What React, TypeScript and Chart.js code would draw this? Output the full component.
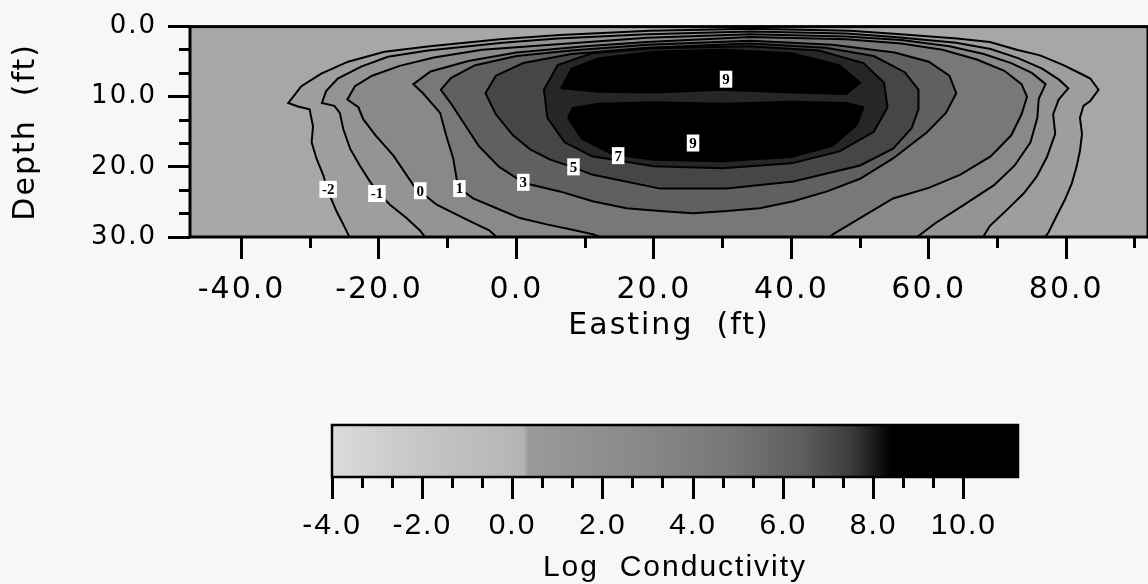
import React, { useEffect, useRef } from 'react';
import { Chart, registerables } from 'chart.js';

Chart.register(...registerables);

// ---- axis ranges / ticks ----
const EASTING_MIN = -47.5;
const EASTING_MAX = 91.9;
const DEPTH_MIN = 0;
const DEPTH_MAX = 30;
const EASTING_MAJOR_STEP = 20;
const EASTING_MINOR_STEP = 10;
const DEPTH_MAJOR_STEP = 10;
const DEPTH_MINOR_STEP = 10 / 3;

const COLORBAR_MIN = -4;
const COLORBAR_MAX = 11.2;
const COLORBAR_MAJOR_STEP = 2;
const COLORBAR_MINOR_STEP = 2 / 3;
const COLORBAR_LAST_TICK = 10;

// ---- contour levels (easting ft, depth ft) ----
const contourLevels = [-2, -1, 0, 1, 3, 5, 7, 9, 9];
const contourFills = ['#9e9e9e', '#949494', '#898989', '#787878', '#606060', '#464646', '#262626', '#000000', '#000000'];
const plotBackground = '#a7a7a7';

const contourM2: [number, number][] = [
  [-24.3, 31], [-24.3, 30], [-25.2, 28.2], [-26.2, 26.3], [-27.4, 23.5], [-28.1, 21.2], [-29.1, 18.8], [-29.8, 16.5],
  [-29.6, 14.2], [-30.1, 11.8], [-31.8, 11.4], [-33.2, 10.9], [-31.3, 8.5], [-28.4, 6.7], [-24.5, 5.0], [-19.2, 3.6],
  [-12.6, 2.8], [-2.4, 1.8], [6.3, 1.2], [19.4, 0.6], [34, 0.3], [48.5, 0.6], [54.4, 1.0], [64.1, 1.7], [68.9, 2.2],
  [72.8, 3.3], [76.2, 4.1], [79.6, 5.5], [82.5, 6.9], [83.5, 7.4], [84.7, 9.0], [83.5, 10.6], [82.5, 11.3], [82.0, 13.0],
  [82.3, 15.3], [82.0, 17.7], [81.5, 20.0], [80.8, 22.4], [79.8, 24.7], [78.6, 27.0], [77.4, 29.4], [76.9, 30], [76.9, 31],
];
const contourM1: [number, number][] = [
  [-13.3, 31], [-13.3, 30], [-14.0, 29.1], [-16.0, 27.3], [-18.4, 25.4], [-20.3, 23.5], [-21.3, 22.1], [-22.8, 19.8],
  [-24.2, 17.4], [-25.2, 14.6], [-25.7, 12.3], [-26.5, 11.3], [-28.3, 10.9], [-27.7, 9.2], [-26.0, 7.4], [-22.6, 5.7],
  [-18.7, 4.3], [-12.9, 3.4], [-2, 2.3], [6, 1.7], [19, 1.1], [34, 0.7], [48, 1.0], [55, 1.5], [64, 2.3], [69, 3.2],
  [73, 4.5], [76.5, 6.0], [79, 7.6], [80.3, 8.8], [78.9, 10.4], [78.1, 12.5], [78.4, 15.3], [77.2, 18.6], [75.7, 21.4],
  [73.8, 23.8], [71.4, 26.1], [68.9, 28.4], [67.9, 30], [67.9, 31],
];
const contour0: [number, number][] = [
  [-2.9, 31], [-2.9, 30], [-3.9, 29.1], [-5.8, 28.2], [-8.7, 26.8], [-11.6, 25.4], [-14.0, 23.5], [-15.0, 22.6],
  [-17.9, 18.4], [-20.5, 15.5], [-22.3, 13.2], [-23.0, 11.5], [-24.6, 10.4], [-23.5, 8.5], [-21, 7], [-17, 5.6],
  [-12, 4.4], [-5, 3.3], [5, 2.6], [19, 1.6], [34, 1.1], [48, 1.4], [56, 1.9], [63, 2.8], [68, 3.9], [72, 5.2],
  [75, 6.6], [77, 8.2], [76, 10.3], [75.8, 13], [74.8, 16.5], [72.5, 19.8], [69.5, 22.6], [65, 25.5], [61, 28],
  [58.3, 30], [58.3, 31],
];
const contour1: [number, number][] = [
  [12.2, 31], [12.2, 30], [11.1, 29.6], [7.8, 28.9], [4.4, 28.2], [0.5, 27.3], [-2.9, 25.9], [-6.3, 24.5], [-8.2, 23.1],
  [-8.7, 21.7], [-9.2, 18.8], [-10.2, 15.6], [-11.1, 12.3], [-13.6, 9.5], [-15, 8.2], [-12.5, 6.4], [-7, 4.9], [0, 3.7],
  [10, 2.8], [19, 2.2], [34, 1.5], [48, 1.8], [56, 2.4], [62, 3.3], [67, 4.7], [71, 6.3], [73.5, 8.2], [74.3, 10],
  [73.5, 12.5], [72, 15.5], [69, 18.5], [64.6, 21.1], [60, 23], [54.8, 24.5], [50, 27.3], [46.1, 29.6], [45.6, 30],
  [45.6, 31],
];
const contour3: [number, number][] = [
  [1.1, 22.3], [6.3, 23.5], [11.1, 24.9], [16, 25.9], [20.9, 26.3], [25.7, 26.6], [30.6, 26.3], [35.4, 25.9],
  [40.3, 24.9], [45.2, 23.5], [50, 21.7], [54.8, 18.8], [59.7, 15.1], [62.5, 12.3], [64, 9.5], [63, 7], [60, 5],
  [55, 3.7], [46, 2.6], [34, 2.0], [19, 2.6], [8, 3.4], [0, 4.2], [-6, 5.5], [-9.5, 7.3], [-11, 9], [-9.5, 11],
  [-7.5, 14], [-5.5, 17], [-2.5, 20],
];
const contour5: [number, number][] = [
  [5, 19], [8.1, 20], [11, 21.1], [20.9, 23.1], [30.6, 23.1], [40.3, 22.1], [50, 19.8], [54.8, 17.4], [57.5, 14.5],
  [58.5, 11.8], [58.5, 9], [56.5, 6.5], [52, 4.2], [45, 3.0], [34, 2.4], [19, 3.0], [8, 3.9], [1, 5.2], [-3, 7],
  [-4.5, 9.5], [-3, 12.5], [-0.5, 15.5], [2, 17.5],
];
const contour7: [number, number][] = [
  [4.5, 13], [7, 16.5], [11, 18.5], [20, 19.9], [30, 20.2], [40, 19.5], [47, 17.8], [52, 15], [54, 11.5], [53.5, 8],
  [50.5, 5.2], [44, 3.4], [34, 2.8], [20, 3.1], [11, 3.8], [6, 5.5], [4, 9],
];
const contour9Upper: [number, number][] = [
  [6.5, 8.8], [12, 9.3], [20, 9.4], [30, 9.0], [40, 9.4], [48, 9.6], [50, 8], [47, 5.5], [40, 3.8], [30, 3.3],
  [20, 3.6], [12, 4.5], [8, 6.0],
];
const contour9Lower: [number, number][] = [
  [7.5, 13], [9.5, 16], [14, 18.2], [20, 19.0], [30, 19.2], [40, 18.6], [46, 17], [49.5, 14], [50.5, 11.5], [48, 10.9],
  [40, 10.7], [30, 11.0], [20, 10.8], [12, 11.0], [8.2, 11.6],
];
const contours = [contourM2, contourM1, contour0, contour1, contour3, contour5, contour7, contour9Upper, contour9Lower];

// ---- contour labels ----
const labelTexts = ['-2', '-1', '0', '1', '3', '5', '7', '9', '9'];
const labelEasting = [-27.4, -20.3, -14.0, -8.3, 1.0, 8.3, 14.8, 25.7, 30.5];
const labelDepth = [23.2, 23.8, 23.4, 23.1, 22.2, 20.0, 18.4, 16.6, 7.5];

// ---- colour bar ----
const colorbarValues = [-4, -3, -2, -1, 0, 0.25, 0.35, 2.7, 4.8, 6.4, 7.5, 8.0, 8.4, 11.2];
const colorbarGrays = ['#dcdcdc', '#d0d0d0', '#c6c6c6', '#bebebe', '#b6b6b6', '#b2b2b2', '#9a9a9a', '#8a8a8a', '#777777', '#5e5e5e', '#3c3c3c', '#1c1c1c', '#000000', '#000000'];

const SANS = "'DejaVu Sans', sans-serif";
const ARIAL = "'Liberation Sans', Arial, sans-serif";

const spacingPlugin = {
  id: 'spacing',
  beforeDraw(chart: any) {
    chart.ctx.letterSpacing = '2px';
  },
};

const fillPlugin = {
  id: 'contourFill',
  beforeDatasetsDraw(chart: any) {
    const { ctx, chartArea: a } = chart;
    ctx.save();
    ctx.beginPath();
    ctx.rect(a.left, a.top, a.right - a.left, a.bottom - a.top);
    ctx.clip();
    ctx.fillStyle = plotBackground;
    ctx.fillRect(a.left, a.top, a.right - a.left, a.bottom - a.top);
    chart.data.datasets.forEach((ds: any, i: number) => {
      const pts = chart.getDatasetMeta(i).data;
      ctx.beginPath();
      pts.forEach((p: any, j: number) => (j ? ctx.lineTo(p.x, p.y) : ctx.moveTo(p.x, p.y)));
      ctx.closePath();
      ctx.fillStyle = ds.backgroundColor;
      ctx.fill();
    });
    ctx.restore();
  },
};

const framePlugin = {
  id: 'frame',
  afterDatasetsDraw(chart: any) {
    const { ctx, chartArea: a } = chart;
    ctx.save();
    ctx.strokeStyle = '#000';
    ctx.lineWidth = 3;
    ctx.strokeRect(a.left, a.top, a.right - a.left, a.bottom - a.top);
    ctx.restore();
  },
};

const labelPlugin = {
  id: 'contourLabels',
  afterDatasetsDraw(chart: any) {
    const { ctx } = chart;
    const xs = chart.scales.x;
    const ys = chart.scales.y;
    ctx.save();
    ctx.letterSpacing = '0px';
    ctx.font = "bold 15px 'Liberation Serif', serif";
    ctx.textAlign = 'center';
    ctx.textBaseline = 'middle';
    labelTexts.forEach((t, i) => {
      const px = xs.getPixelForValue(labelEasting[i]);
      const py = ys.getPixelForValue(labelDepth[i]);
      const w = ctx.measureText(t).width + 5;
      const h = 17;
      ctx.fillStyle = '#ffffff';
      ctx.fillRect(px - w / 2, py - h / 2, w, h);
      ctx.fillStyle = '#000000';
      ctx.fillText(t, px, py + 1);
    });
    ctx.restore();
  },
};

const gradientPlugin = {
  id: 'colorbar',
  beforeDatasetsDraw(chart: any) {
    const { ctx, chartArea: a } = chart;
    const xs = chart.scales.x;
    const g = ctx.createLinearGradient(a.left, 0, a.right, 0);
    colorbarValues.forEach((v, i) => {
      const f = Math.min(1, Math.max(0, (xs.getPixelForValue(v) - a.left) / (a.right - a.left)));
      g.addColorStop(f, colorbarGrays[i]);
    });
    ctx.save();
    ctx.fillStyle = g;
    ctx.fillRect(a.left, a.top, a.right - a.left, a.bottom - a.top);
    ctx.strokeStyle = '#000';
    ctx.lineWidth = 2.5;
    ctx.strokeRect(a.left, a.top, a.right - a.left, a.bottom - a.top);
    ctx.restore();
  },
};

const fmt1 = (v: any) => Number(v).toFixed(1);

export default function App() {
  const mainRef = useRef<HTMLCanvasElement>(null);
  const barRef = useRef<HTMLCanvasElement>(null);

  useEffect(() => {
    const datasets = contours.map((c, i) => {
      const pts = c.map(([x, d]) => ({ x, y: d }));
      pts.push({ x: c[0][0], y: c[0][1] });
      return {
        label: `level ${contourLevels[i]}`,
        data: pts,
        showLine: true,
        borderColor: '#000000',
        borderWidth: 2,
        backgroundColor: contourFills[i],
        pointRadius: 0,
        pointHoverRadius: 0,
        fill: false,
        tension: 0,
      };
    });

    const tickGrid = (len: number) => ({
      drawOnChartArea: false,
      drawTicks: true,
      tickLength: len,
      tickWidth: 3,
      tickColor: '#000',
      color: '#000',
      lineWidth: 3,
    });

    const main = new Chart(mainRef.current as HTMLCanvasElement, {
      type: 'scatter',
      data: { datasets } as any,
      options: {
        animation: false,
        responsive: false,
        events: [],
        layout: { padding: { left: 0, right: 0, top: 22, bottom: 0 } },
        plugins: { legend: { display: false }, tooltip: { enabled: false }, title: { display: false } },
        scales: {
          x: {
            type: 'linear', axis: 'x', position: 'bottom', weight: 1,
            min: EASTING_MIN, max: EASTING_MAX,
            ticks: {
              stepSize: EASTING_MAJOR_STEP, includeBounds: false, autoSkip: false, maxRotation: 0,
              callback: fmt1, color: '#000', padding: 13, font: { family: SANS, size: 30 },
            },
            grid: tickGrid(22),
            border: { display: false },
            title: { display: true, text: 'Easting  (ft)', color: '#000', font: { family: SANS, size: 30 }, padding: { top: 0, bottom: 16 } },
            afterFit: (s: any) => { s.height = 123; },
          },
          x2: {
            type: 'linear', axis: 'x', position: 'bottom', weight: 0,
            min: EASTING_MIN, max: EASTING_MAX,
            ticks: { display: false, stepSize: EASTING_MINOR_STEP, includeBounds: false },
            grid: tickGrid(11),
            border: { display: false },
            afterFit: (s: any) => { s.height = 0; },
          },
          y: {
            type: 'linear', axis: 'y', position: 'left', weight: 1, reverse: true,
            min: DEPTH_MIN, max: DEPTH_MAX,
            ticks: {
              stepSize: DEPTH_MAJOR_STEP, includeBounds: false, autoSkip: false,
              callback: fmt1, color: '#000', padding: 11, font: { family: SANS, size: 26 },
            },
            grid: tickGrid(22),
            border: { display: false },
            title: { display: true, text: 'Depth  (ft)', color: '#000', font: { family: SANS, size: 30 }, padding: { top: 8, bottom: 0 } },
            afterFit: (s: any) => { s.width = 190; },
          },
          y2: {
            type: 'linear', axis: 'y', position: 'left', weight: 0, reverse: true,
            min: DEPTH_MIN, max: DEPTH_MAX,
            ticks: { display: false, stepSize: DEPTH_MINOR_STEP, includeBounds: false },
            grid: tickGrid(11),
            border: { display: false },
            afterFit: (s: any) => { s.width = 0; },
          },
        },
      } as any,
      plugins: [spacingPlugin, fillPlugin, framePlugin, labelPlugin],
    });

    const bar = new Chart(barRef.current as HTMLCanvasElement, {
      type: 'scatter',
      data: { datasets: [] },
      options: {
        animation: false,
        responsive: false,
        events: [],
        layout: { padding: { left: 332, right: 130, top: 45, bottom: 0 } },
        plugins: { legend: { display: false }, tooltip: { enabled: false }, title: { display: false } },
        scales: {
          x: {
            type: 'linear', axis: 'x', position: 'bottom', weight: 1,
            min: COLORBAR_MIN, max: COLORBAR_MAX,
            ticks: {
              stepSize: COLORBAR_MAJOR_STEP, includeBounds: false, autoSkip: false, maxRotation: 0,
              callback: fmt1, color: '#000', padding: 9, font: { family: ARIAL, size: 30 },
            },
            grid: tickGrid(22),
            border: { display: false },
            title: { display: true, text: 'Log  Conductivity', color: '#000', font: { family: ARIAL, size: 30 }, padding: { top: 0, bottom: 14 } },
            afterFit: (s: any) => { s.height = 123; },
          },
          x2: {
            type: 'linear', axis: 'x', position: 'bottom', weight: 0,
            min: COLORBAR_MIN, max: COLORBAR_MAX,
            ticks: { display: false, stepSize: COLORBAR_MINOR_STEP, includeBounds: false },
            afterBuildTicks: (s: any) => { s.ticks = s.ticks.filter((t: any) => t.value <= COLORBAR_LAST_TICK + 0.01); },
            grid: tickGrid(11),
            border: { display: false },
            afterFit: (s: any) => { s.height = 0; },
          },
          y: { type: 'linear', display: false, min: 0, max: 1 },
        },
      } as any,
      plugins: [spacingPlugin, gradientPlugin],
    });

    return () => {
      main.destroy();
      bar.destroy();
    };
  }, []);

  return (
    <div style={{ position: 'fixed', left: 0, top: 0, width: 1148, height: 584, overflow: 'hidden', background: '#f7f7f7' }}>
      <canvas ref={mainRef} width={1148} height={360} style={{ position: 'absolute', left: 0, top: 0 }} />
      <canvas ref={barRef} width={1148} height={220} style={{ position: 'absolute', left: 0, top: 380 }} />
    </div>
  );
}
